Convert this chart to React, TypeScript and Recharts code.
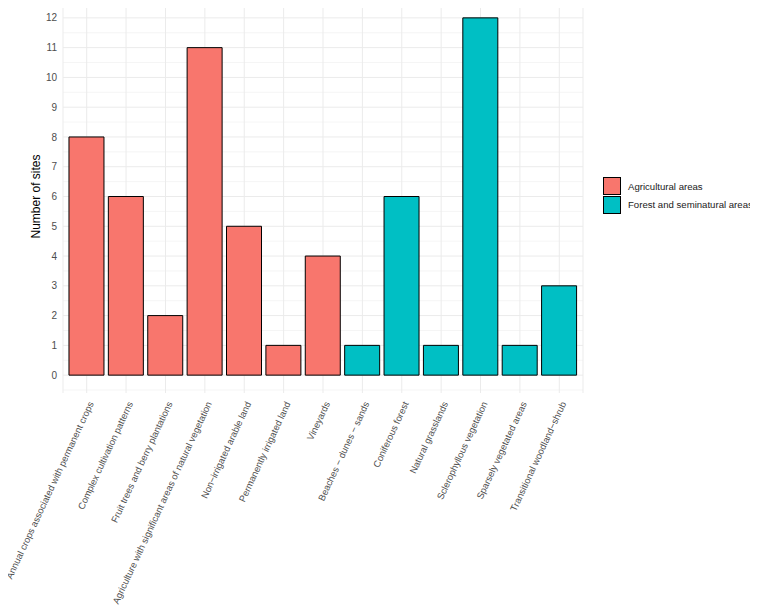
import React from "react";
import { BarChart, Bar, Cell, XAxis, YAxis, CartesianGrid } from "recharts";

const landCover = [
  "Annual crops associated with permanent crops",
  "Complex cultivation patterns",
  "Fruit trees and berry plantations",
  "Agriculture with significant areas of natural vegetation",
  "Non\u2212irrigated arable land",
  "Permanently irrigated land",
  "Vineyards",
  "Beaches \u2212 dunes \u2212 sands",
  "Coniferous forest",
  "Natural grasslands",
  "Sclerophyllous vegetation",
  "Sparsely vegetated areas",
  "Transitional woodland\u2212shrub",
];
const siteCounts = [8, 6, 2, 11, 5, 1, 4, 1, 6, 1, 12, 1, 3];
const groups = [
  "Agricultural areas",
  "Agricultural areas",
  "Agricultural areas",
  "Agricultural areas",
  "Agricultural areas",
  "Agricultural areas",
  "Agricultural areas",
  "Forest and seminatural areas",
  "Forest and seminatural areas",
  "Forest and seminatural areas",
  "Forest and seminatural areas",
  "Forest and seminatural areas",
  "Forest and seminatural areas",
];
const groupNames = ["Agricultural areas", "Forest and seminatural areas"];
const groupColors = ["#F8766D", "#00BFC4"];
const yTicks = [0, 1, 2, 3, 4, 5, 6, 7, 8, 9, 10, 11, 12];
const yMinor = [-0.5, 0.5, 1.5, 2.5, 3.5, 4.5, 5.5, 6.5, 7.5, 8.5, 9.5, 10.5, 11.5, 12.5];

const data = landCover.map((name, i) => ({ name, sites: siteCounts[i], group: groups[i] }));

const FONT = "'Liberation Sans', Arial, sans-serif";

// rotated category labels, right end hanging just under each tick
const AngledTick = (props: any) => {
  const { x, y, payload } = props;
  return (
    <text
      x={0}
      y={0}
      transform={`translate(${x + 4},${y + 1}) rotate(-65)`}
      textAnchor="end"
      dominantBaseline="central"
      fontSize={9.4}
      fill="#4d4d4d"
      fontFamily={FONT}
    >
      {payload.value}
    </text>
  );
};

const GroupLegend = () => (
  <div
    style={{
      position: "absolute",
      left: 603,
      top: 177,
      fontFamily: FONT,
      fontSize: 9.6,
      color: "#1a1a1a",
      whiteSpace: "nowrap",
    }}
  >
    {groupNames.map((g, i) => (
      <div key={g} style={{ display: "flex", alignItems: "center", height: 18.5 }}>
        <span
          style={{
            display: "inline-block",
            width: 18,
            height: 18,
            background: groupColors[i],
            border: "1px solid #000",
            boxSizing: "border-box",
            marginRight: 7,
          }}
        />
        {g}
      </div>
    ))}
  </div>
);

export default function App() {
  return (
    <div style={{ margin: -8, background: "#fff", width: 758, height: 616, position: "relative" }}>
      <BarChart
        width={758}
        height={616}
        data={data}
        barCategoryGap="5%"
        margin={{ top: 0, right: 175, bottom: 0, left: 28 }}
      >
        <CartesianGrid
          stroke="#ebebeb"
          strokeWidth={0.5}
          vertical={false}
          horizontalValues={yMinor}
        />
        <CartesianGrid stroke="#ebebeb" strokeWidth={1} horizontalValues={yTicks} />
        <XAxis
          dataKey="name"
          interval={0}
          height={223}
          tickLine={false}
          axisLine={false}
          padding={{ left: 4, right: 4 }}
          tick={<AngledTick />}
        />
        <YAxis
          width={35}
          domain={[-0.6, 12.6]}
          ticks={yTicks}
          allowDataOverflow
          tickLine={false}
          axisLine={false}
          tickSize={0}
          tickMargin={6}
          tick={{ fontSize: 10, fill: "#4d4d4d", fontFamily: FONT }}
          label={{
            value: "Number of sites",
            angle: -90,
            position: "insideLeft",
            offset: 8,
            style: { textAnchor: "middle", fontSize: 12, fill: "#000", fontFamily: FONT },
          }}
        />
        <Bar dataKey="sites" stroke="#000" strokeWidth={1} isAnimationActive={false}>
          {data.map((d, i) => (
            <Cell key={i} fill={groupColors[groupNames.indexOf(d.group)]} />
          ))}
        </Bar>
      </BarChart>
      <GroupLegend />
    </div>
  );
}
